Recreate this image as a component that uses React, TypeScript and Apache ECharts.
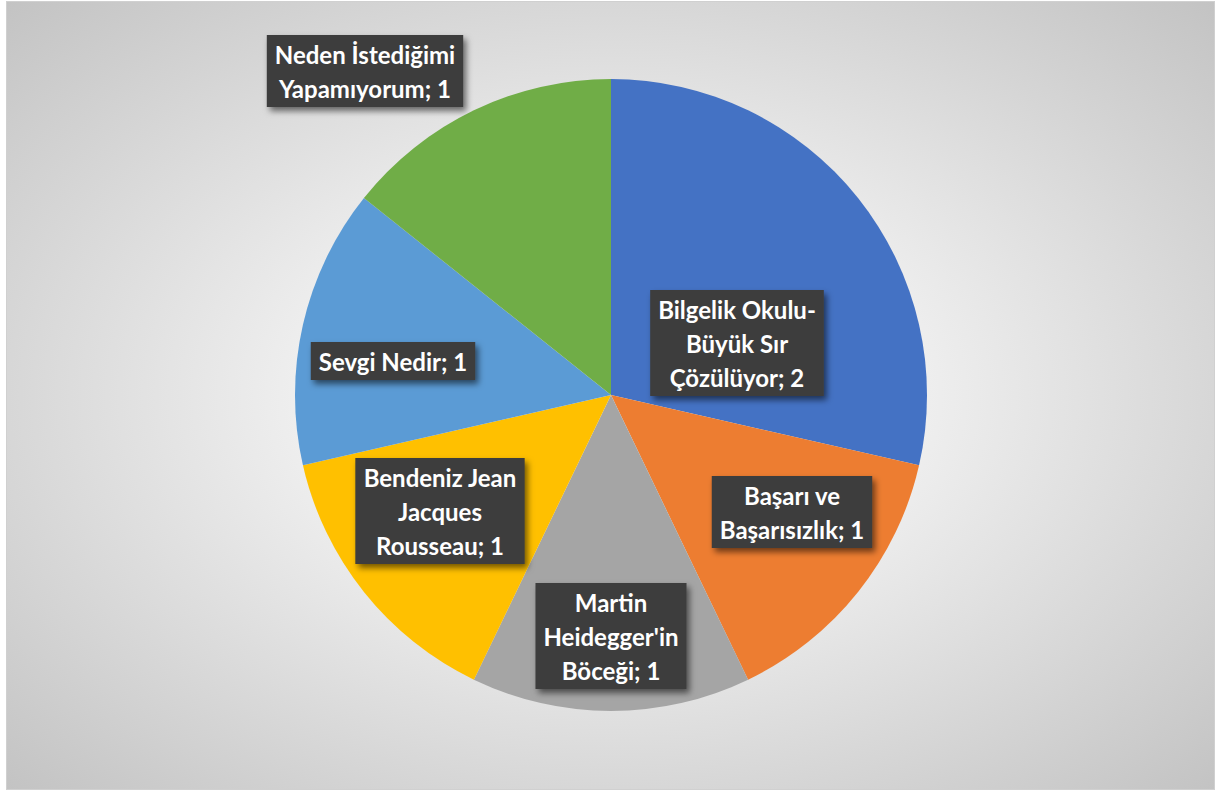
import React, { useEffect, useRef } from "react";
import * as echarts from "echarts";

const categories = [
  "Bilgelik Okulu-\nBüyük Sır\nÇözülüyor",
  "Başarı ve\nBaşarısızlık",
  "Martin\nHeidegger'in\nBöceği",
  "Bendeniz Jean\nJacques\nRousseau",
  "Sevgi Nedir",
  "Neden İstediğimi\nYapamıyorum",
];
const values = [2, 1, 1, 1, 1, 1];
const colors = ["#4472C4", "#ED7D31", "#A5A5A5", "#FFC000", "#5B9BD5", "#70AD47"];
const labelPos: [number, number][] = [
  [737, 343],
  [792, 512],
  [611, 636],
  [440, 511],
  [393, 361],
  [365, 71],
];

export default function App() {
  const ref = useRef<HTMLDivElement>(null);
  useEffect(() => {
    if (!ref.current) return;
    const chart = echarts.init(ref.current, null, { renderer: "svg" });
    chart.setOption({
      animation: false,
      backgroundColor: "transparent",
      series: [
        {
          type: "pie",
          center: [611, 395],
          radius: 316,
          startAngle: 90,
          clockwise: true,
          data: categories.map((n, i) => ({
            name: n,
            value: values[i],
            itemStyle: { color: colors[i] },
          })),
          itemStyle: { borderWidth: 0 },
          emphasis: { disabled: true },
          label: {
            show: true,
            position: "inside",
            formatter: "{b}; {c}",
            color: "#ffffff",
            fontFamily: "Lato",
            fontWeight: "bold",
            fontSize: 24,
            lineHeight: 34,
            align: "center",
            verticalAlign: "middle",
            backgroundColor: "#3d3d3d",
            padding: [2, 8, 2, 8],
            shadowColor: "rgba(0,0,0,0.55)",
            shadowBlur: 6,
            shadowOffsetX: 3,
            shadowOffsetY: 4,
          },
          labelLine: { show: false },
          labelLayout: (p: any) => ({
            x: labelPos[p.dataIndex][0],
            y: labelPos[p.dataIndex][1],
            align: "center",
            verticalAlign: "middle",
          }),
        },
      ],
    });
    return () => chart.dispose();
  }, []);
  return (
    <div style={{ position: "fixed", left: 0, top: 0, width: 1218, height: 792, background: "#fff" }}>
      <div
        style={{
          position: "absolute",
          left: 6,
          top: 1,
          width: 1207,
          height: 787,
          border: "1px solid #d0d0d0",
          background:
            "radial-gradient(ellipse farthest-corner at 50% 50%, #ffffff 0%, #f3f3f3 30%, #d6d6d6 72%, #c3c3c3 100%)",
        }}
      />
      <div ref={ref} style={{ position: "absolute", left: 0, top: 0, width: 1218, height: 792 }} />
    </div>
  );
}
